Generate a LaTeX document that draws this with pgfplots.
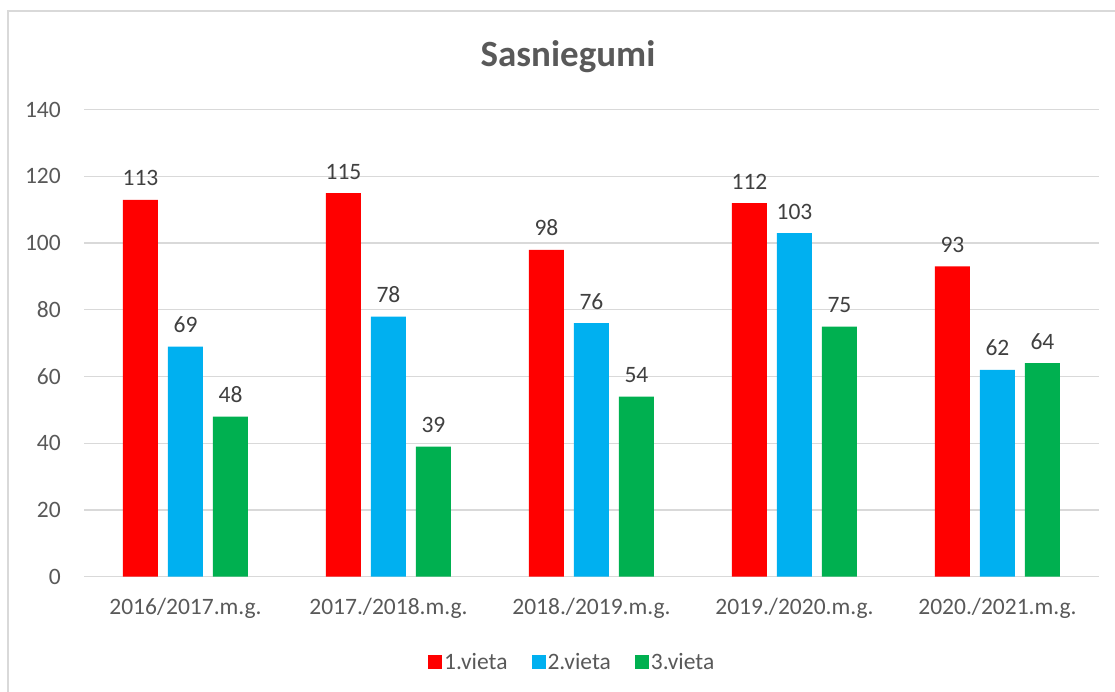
\documentclass[border=0pt]{standalone}
\usepackage{pgfplots}
\pgfplotsset{compat=1.18}
\usepackage{fontspec}
\setmainfont{Carlito}
\definecolor{cRed}{HTML}{FF0000}
\definecolor{cBlue}{HTML}{00B0F0}
\definecolor{cGreen}{HTML}{00B050}
\definecolor{txt}{HTML}{595959}
\definecolor{lbl}{HTML}{404040}
\definecolor{gridc}{HTML}{D9D9D9}
\newcommand{\bodyfont}{\fontsize{23.5}{28}\selectfont}
\begin{document}
\begin{tikzpicture}[x=1pt,y=1pt]
\path[use as bounding box] (0,0) rectangle (1115,692);
\draw[gridc, line width=1.5pt] (8,0) -- (8,681) -- (1115,681);
\node[anchor=base, text=txt, font=\fontsize{37}{44}\selectfont\bfseries] at (568,625) {Sasniegumi};
\begin{axis}[
  at={(84pt,115.3pt)}, anchor=south west,
  scale only axis, width=1015pt, height=467pt,
  xmin=-0.5, xmax=4.5, ymin=0, ymax=140,
  enlargelimits=false,
  ybar=10pt, bar width=35pt,
  xtick={0,1,2,3,4},
  xticklabels={2016/2017.m.g., 2017./2018.m.g., 2018./2019.m.g., 2019./2020.m.g., 2020./2021.m.g.},
  ytick={0,20,40,60,80,100,120,140},
  major tick length=0pt,
  axis line style={draw=none},
  xmajorgrids=false, ymajorgrids=true,
  major grid style={draw=gridc, line width=1.3pt},
  /pgf/number format/assume math mode=true,
  yticklabel style={font=\bodyfont, text=txt, anchor=east, inner sep=0pt, xshift=-23pt},
  xticklabel style={font=\bodyfont, text=txt, anchor=base, inner sep=0pt, yshift=-38pt},
  nodes near coords,
  nodes near coords style={font=\bodyfont, text=lbl, anchor=base, inner sep=0pt, yshift=14pt},
  legend columns=3,
  legend style={at={(0.481,-0.182)}, anchor=center, draw=none, fill=none,
    font=\bodyfont, text=txt, /tikz/every even column/.style={column sep=22pt}},
  legend image code/.code={\fill[#1] (0pt,-7pt) rectangle (14pt,7pt);},
]
\addplot[fill=cRed, draw=none] coordinates {(0,113) (1,115) (2,98) (3,112) (4,93)};
\addplot[fill=cBlue, draw=none] coordinates {(0,69) (1,78) (2,76) (3,103) (4,62)};
\addplot[fill=cGreen, draw=none] coordinates {(0,48) (1,39) (2,54) (3,75) (4,64)};
\legend{1.vieta, 2.vieta, 3.vieta}
\end{axis}
\end{tikzpicture}
\end{document}
